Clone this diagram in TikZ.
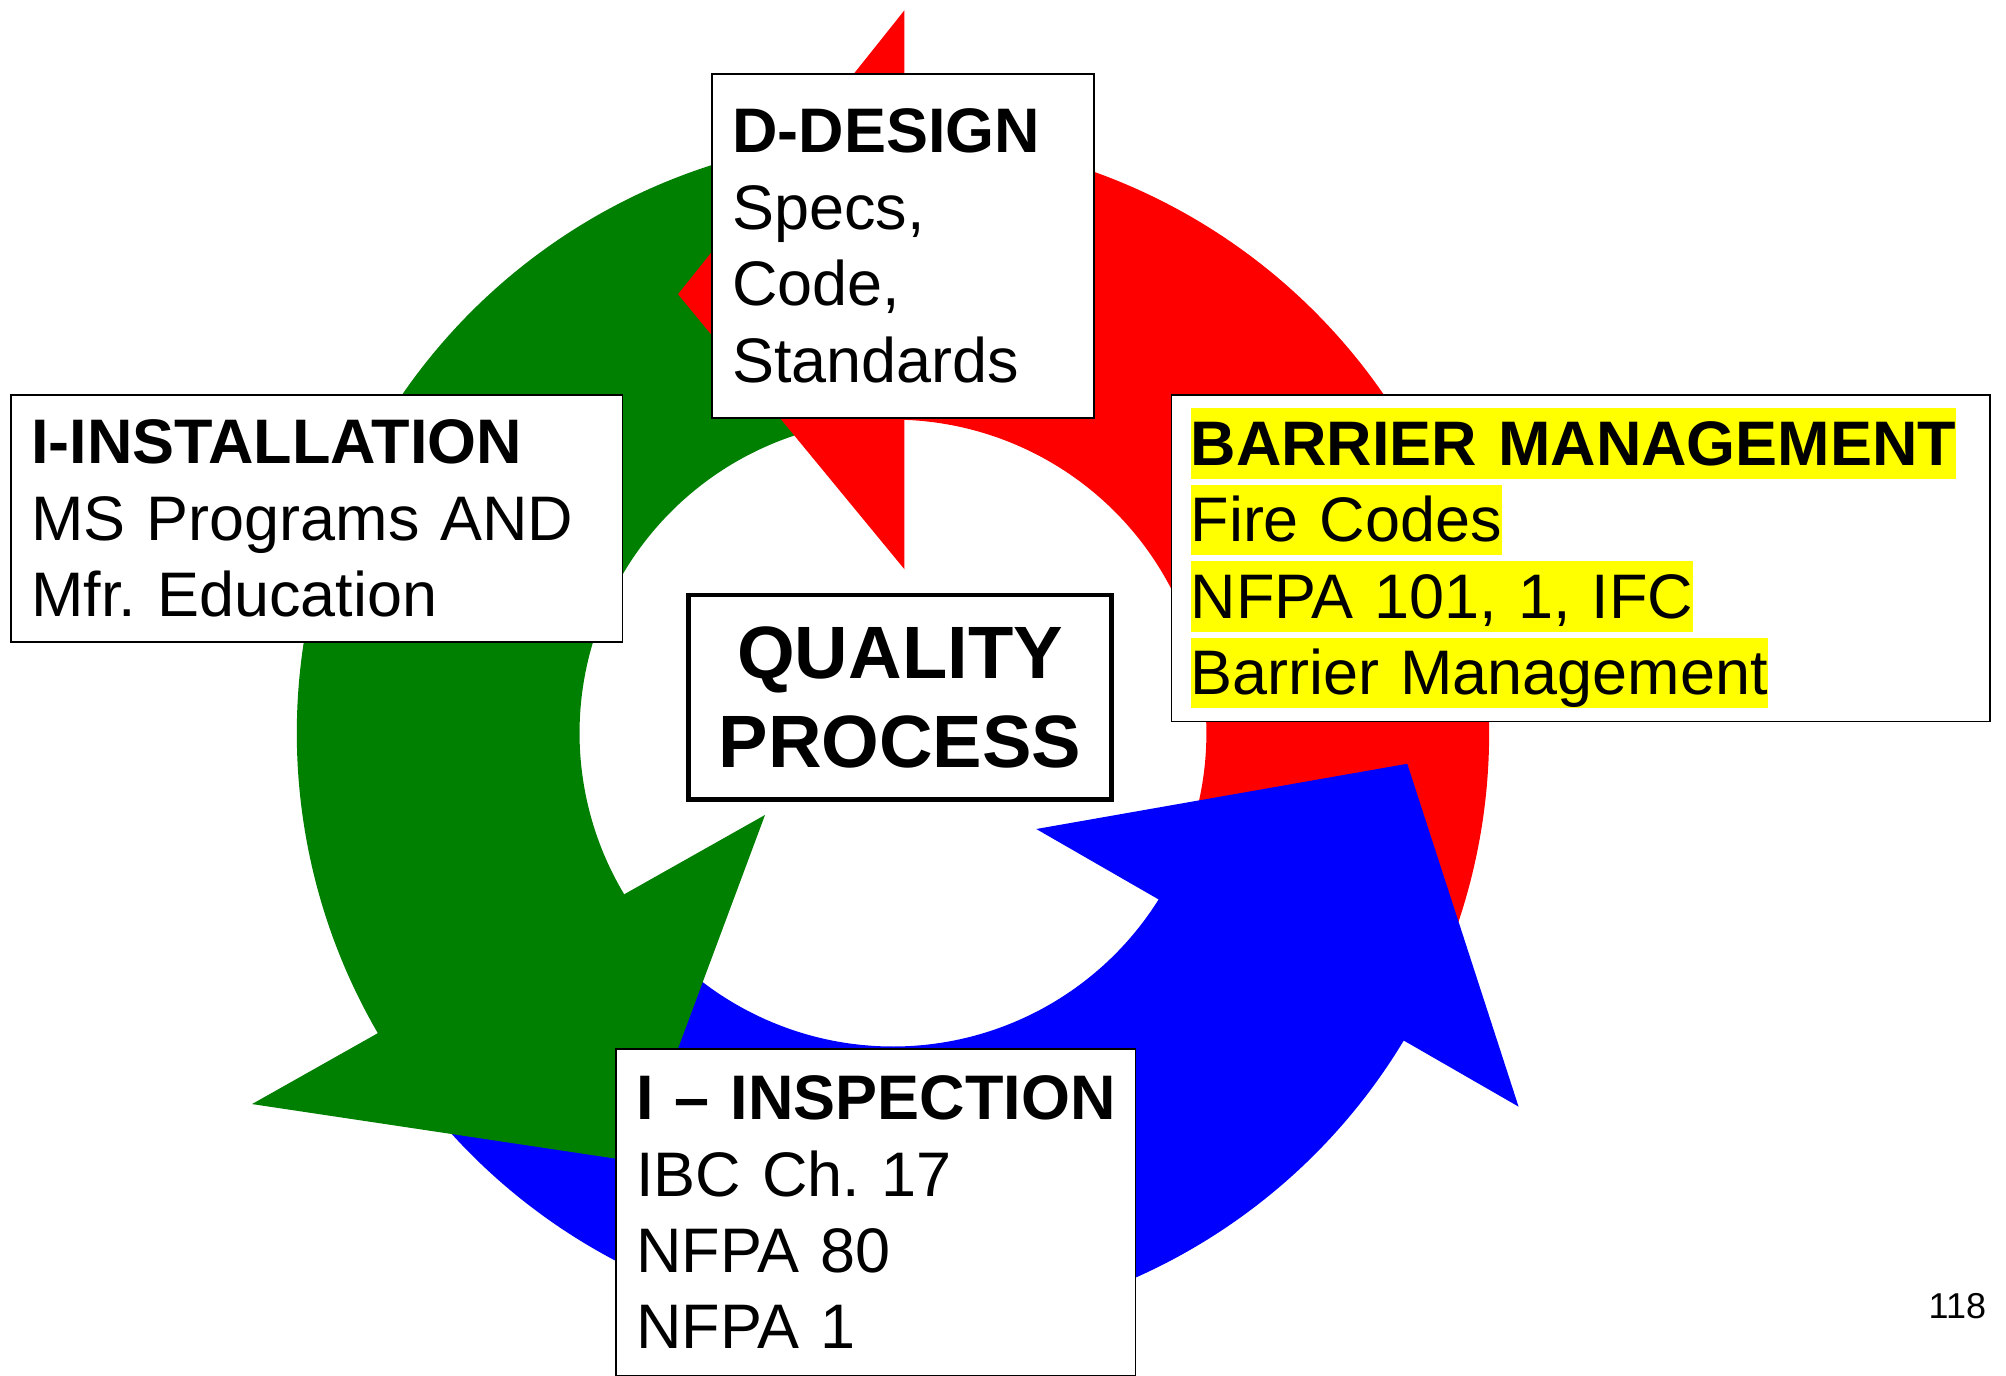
\documentclass[tikz,border=0pt]{standalone}
\usepackage{fontspec}
\setmainfont{Liberation Sans}
\usepackage{tikz}
\frenchspacing

\definecolor{cyclegreen}{RGB}{0,128,0}
\definecolor{markyellow}{RGB}{255,255,0}
\newcommand{\hilite}[1]{{\setlength{\fboxsep}{0pt}\colorbox{markyellow}{\rule[-0.212em]{0pt}{1.117em}#1}}}

\tikzset{
	textbox/.style={draw, fill=white, line width=0.8pt, anchor=north west, align=left, inner xsep=9pt, inner ysep=12pt, font=\fontsize{28}{34}\selectfont},
	ringbody/.style={draw=none},
}

\begin{document}
\begin{tikzpicture}[x=0.02cm,y=0.02cm]
				\clip (-698,-502) rectangle (870,573);
				\fill[white] (-698,-502) rectangle (870,573);
				\fill[red,ringbody] (-22:245) -- (-22:466) arc[start angle=-22,end angle=92,radius=466] -- (92:245) arc[start angle=92,end angle=-22,radius=245] -- cycle;
				\fill[cyclegreen,ringbody] (98:245) -- (98:466) arc[start angle=98,end angle=213,radius=466] -- (213:245) arc[start angle=213,end angle=98,radius=245] -- cycle;
				\fill[blue,ringbody] (218:245) -- (218:466) arc[start angle=218,end angle=331,radius=466] -- (331:245) arc[start angle=331,end angle=218,radius=245] -- cycle;
				\fill[red,ringbody] (9,565) -- (-168,343) -- (9,128) -- cycle;
				\fill[cyclegreen,ringbody] (-100,-64) -- (-201,-335) -- (-501,-290) -- cycle;
				\fill[blue,ringbody] (112,-75) -- (402,-24) -- (489,-292) -- cycle;
				\node[textbox, text width=152pt, minimum height=153pt, inner ysep=9pt] (design) at (-142,516) {\textbf{D-DESIGN}\\Specs,\\Code,\\Standards};
				\node[textbox, text width=254pt, inner ysep=11pt] (install) at (-690,265) {\textbf{I-INSTALLATION}\\MS Programs AND\\Mfr. Education};
				\node[textbox, text width=347pt, inner xsep=8.5pt, inner ysep=6pt] (barrier) at (217,265) {\hilite{\bfseries BARRIER MANAGEMENT}\\\hilite{Fire Codes}\\\hilite{NFPA 101, 1, IFC}\\\hilite{Barrier Management}};
				\node[textbox, text width=213pt] (inspect) at (-217,-246) {\mbox{\textbf{I \textendash{} INSPECTION}}\\IBC Ch. 17\\NFPA 80\\NFPA 1};
				\node[draw, fill=white, line width=2pt, align=center, minimum width=188pt, minimum height=91pt, font=\fontsize{33}{39.7}\selectfont\bfseries] (quality) at (5.5,28) {QUALITY\\PROCESS};
				\node[font=\fontsize{16}{19}\selectfont] (pagenum) at (832,-448) {118};
\end{tikzpicture}
\end{document}
